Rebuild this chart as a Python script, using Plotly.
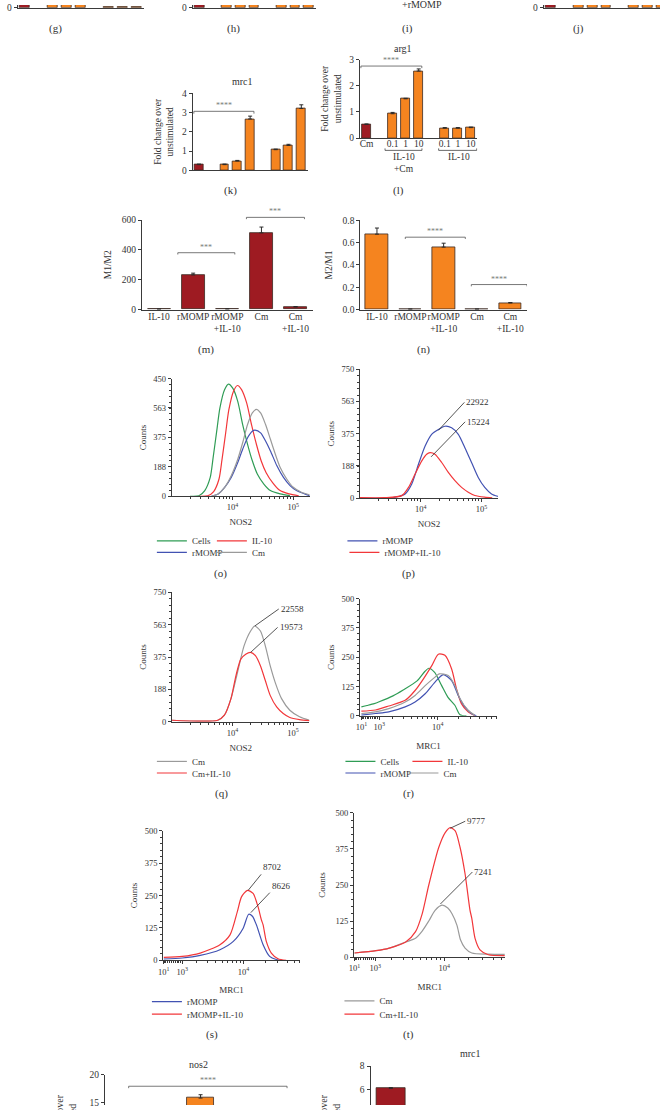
import numpy as np
import plotly.graph_objects as go

W, H = 660, 1110
FONT = "Liberation Serif"
INK = "#333333"
RED = "#9e1b22"
ORANGE = "#f5841f"
EDGE = "#3b2a22"
SIG = "#7a7a7a"
C_GREEN = "#2f9c55"
C_RED = "#f2373a"
C_BLUE = "#4252b2"
C_GRAY = "#9a9a9a"

# ---------------- data ----------------
# (g), (h), (j): only the feet of the bars are inside the page
top_slots = [0, 2, 3, 4, 6, 7, 8]
g_vals = [5, 5, 5, 5, 0.35, 0.35, 0.35]
h_vals = [5, 5, 5, 5, 5, 5, 5]
j_vals = [5, 5, 5, 5, 5, 5, 5]

# (k) mrc1 fold change
k_slots = [0, 2, 3, 4, 6, 7, 8]
k_vals = [0.29, 0.29, 0.48, 2.67, 1.07, 1.29, 3.22]
k_err = [0.03, 0.03, 0.03, 0.15, 0.03, 0.06, 0.19]

# (l) arg1 fold change
l_slots = [0, 2, 3, 4, 6, 7, 8]
l_vals = [0.52, 0.93, 1.50, 2.56, 0.38, 0.38, 0.40]
l_err = [0.02, 0.05, 0.02, 0.08, 0.02, 0.02, 0.02]
l_ticks = ["Cm", "0.1", "1", "10", "0.1", "1", "10"]

# (m) M1/M2 and (n) M2/M1
mn_cats = ["IL-10", "rMOMP", "rMOMP<br>+IL-10", "Cm", "Cm<br>+IL-10"]
m_vals = [2, 232, 3, 514, 17]
m_err = [1, 12, 1, 39, 3]
n_vals = [0.676, 0.003, 0.56, 0.003, 0.059]
n_err = [0.055, 0.001, 0.035, 0.001, 0.004]

# significance brackets: (x0, x1, y, label)
k_sig = [(-0.4, 4.3, 3.07, "****")]
l_sig = [(-0.43, 4.24, 2.75, "****")]
m_sig = [(0.55, 2.22, 381, "***"), (2.56, 4.26, 618, "***")]
n_sig = [(0.85, 2.65, 0.649, "****"), (2.83, 4.5, 0.224, "****")]
nos2_sig = [(0.12, 4.26, 17.9, "****")]

# bottom (cut) panels
nos2_slots = [2]
nos2_vals = [15.77]
nos2_err = [0.6]
mrc1b_slots = [0]
mrc1b_vals = [6.1]
mrc1b_err = [0.05]

# (o) NOS2 histograms
o_cells_x = [2000, 2800, 3500, 4300, 4800, 5500, 6200, 7400, 8600, 10100, 12200, 14700, 17700, 21200, 25600, 32800, 42000, 61000, 88000]
o_cells_y = [0, 3, 36, 120, 246, 415, 562, 679, 715, 689, 605, 457, 331, 226, 142, 78, 36, 15, 4]
o_il10_x = [2800, 3900, 4900, 6000, 6700, 7700, 8700, 10400, 12100, 14100, 17100, 20600, 24800, 29700, 35800, 46000, 59000, 85000, 123000]
o_il10_y = [0, 3, 30, 110, 230, 400, 550, 670, 706, 680, 595, 455, 330, 225, 150, 85, 40, 15, 3]
o_rmomp_x = [4500, 5800, 7430, 9530, 12200, 14700, 17700, 21200, 23500, 29000, 35000, 42100, 53800, 69000, 88500, 113000, 154000, 186000]
o_rmomp_y = [0, 15, 57, 120, 215, 300, 373, 415, 421, 404, 352, 289, 194, 120, 68, 36, 15, 4]
o_cm_x = [4500, 5800, 7430, 9530, 12200, 14700, 17700, 21200, 24700, 29000, 35000, 42100, 50700, 61000, 78000, 100000, 136000, 186000]
o_cm_y = [0, 15, 57, 131, 236, 341, 457, 531, 554, 531, 457, 363, 268, 183, 110, 57, 25, 9]

# (p)
p_rmomp_x = [1000, 3000, 3800, 5530, 7110, 9170, 11800, 15100, 19500, 25000, 32200, 41500, 53200, 68500, 88300, 113000, 146000, 188000]
p_rmomp_y = [0, 0, 6, 25, 83, 198, 304, 372, 400, 419, 410, 372, 294, 208, 121, 63, 25, 10]
p_il10_x = [1000, 2500, 4890, 6290, 8070, 10400, 12500, 14200, 17100, 22100, 28400, 36500, 47000, 60500, 77600, 113000, 150000]
p_il10_y = [3, 3, 15, 63, 141, 217, 256, 265, 256, 208, 150, 102, 63, 35, 16, 6, 2]

# (q)
q_cm_x = [1000, 5710, 7330, 9420, 12100, 15500, 19900, 23300, 28900, 34800, 41900, 50500, 64600, 88500, 128000, 187000]
q_cm_y = [9, 9, 38, 134, 287, 440, 526, 555, 526, 440, 325, 230, 134, 67, 29, 9]
q_il10_x = [1000, 5710, 7330, 9420, 11400, 13700, 16500, 19900, 23900, 28900, 34800, 41900, 53600, 68900, 88500, 128000, 187000]
q_il10_y = [9, 9, 38, 134, 268, 363, 392, 402, 383, 325, 239, 153, 86, 48, 25, 13, 7]

# (r) MRC1 histograms
r_cells_x = [0, 300, 700, 1000, 2000, 3000, 5000, 6500, 7400, 9000, 11400, 14000, 17700, 21000, 26000]
r_cells_y = [38, 44, 52, 60, 85, 110, 150, 190, 203, 185, 129, 80, 45, 5, 0]
r_il10_x = [0, 775, 1660, 3230, 4610, 6160, 8180, 10200, 12700, 15900, 18700, 22000, 27500, 34200]
r_il10_y = [20, 25, 42, 66, 108, 158, 214, 263, 258, 200, 115, 52, 17, 1]
r_rmomp_x = [0, 775, 1660, 3230, 4610, 6530, 9120, 12000, 15900, 19800, 24700, 30700, 36200]
r_rmomp_y = [3, 10, 17, 38, 59, 94, 144, 176, 150, 87, 38, 10, 0]
r_cm_x = [0, 775, 1660, 3230, 4610, 6530, 9120, 10500, 14200, 17700, 21000, 27500, 34200]
r_cm_y = [10, 17, 31, 59, 87, 129, 165, 179, 172, 129, 73, 24, 3]

# (s)
s_rmomp_x = [10, 1000, 2300, 4640, 7200, 9900, 11800, 13300, 15100, 18700, 23000, 28400, 34000]
s_rmomp_y = [5, 9, 19, 41, 73, 124, 178, 170, 137, 60, 15, 3, 0]
s_il10_x = [10, 1000, 2300, 4640, 6470, 8200, 9380, 11350, 13600, 15900, 17700, 18700, 20700, 24300, 30000, 38900]
s_il10_y = [11, 15, 28, 60, 98, 188, 245, 270, 258, 207, 156, 137, 73, 28, 6, 0]

# (t)
t_cm_x = [11, 1040, 1845, 3220, 4350, 5300, 6430, 7710, 9400, 11100, 12500, 14400, 15900, 18100, 21900, 34900, 55400]
t_cm_y = [14, 22, 31, 52, 65, 90, 125, 162, 180, 170, 150, 110, 60, 31, 14, 10, 9]
t_il10_x = [11, 1040, 1845, 3220, 4350, 5300, 6430, 8560, 10300, 11900, 13700, 15700, 18100, 20800, 21900, 24000, 27600, 34900, 55400]
t_il10_y = [14, 22, 31, 52, 88, 150, 250, 380, 432, 449, 438, 381, 289, 163, 134, 65, 25, 8, 5]

# peak call-outs: (panel axis, x value, y value, label, dx px, dy px)
nos2_marks = [("9", 19500, 395, "22922", 26, -28), ("9", 14800, 241, "15224", 34, -35),
              ("10", 23300, 555, "22558", 24, -17), ("10", 19900, 402, "19573", 27, -25)]
mrc1_marks = [("12", 11600, 270, "8702", 13, -16), ("12", 12640, 184, "8626", 19, -20),
              ("13", 11900, 447, "9777", 15, -7), ("13", 8980, 184, "7241", 32, -32)]

log_major = [1e4, 1e5]
log_major_text = ["10<sup>4</sup>", "10<sup>5</sup>"]
mrc1_major = [10, 1000, 10000]
mrc1_major_text = ["10<sup>1</sup>", "10<sup>3</sup>", "10<sup>4</sup>"]


def mrc1_axis(v):
    # biexponential (logicle-like) display scale used on the MRC1 axes
    return np.arcsinh(np.asarray(v, dtype=float) / 1600.0) / np.log(10)


minor_vals = [m * 10 ** e for e in range(1, 5) for m in range(2, 10)]

# ---------------- figure ----------------
fig = go.Figure()
axes = {}
annotations = []
shapes = []


def setax(n, xd, yd, xkw=None, ykw=None):
    s = "" if n == 1 else str(n)
    base = dict(showline=True, linecolor="#3a3a3a", linewidth=1, showgrid=False, zeroline=False,
                ticks="outside", ticklen=3, tickwidth=0.8, tickcolor="#3a3a3a",
                tickfont=dict(size=9.5, color=INK), fixedrange=True)
    xa = dict(base, domain=[xd[0] / W, xd[1] / W], anchor="y" + s)
    ya = dict(base, domain=[1 - yd[1] / H, 1 - yd[0] / H], anchor="x" + s)
    xa.update(xkw or {})
    ya.update(ykw or {})
    axes["xaxis" + s] = xa
    axes["yaxis" + s] = ya


def refs(n):
    s = "" if n == 1 else str(n)
    return "x" + s, "y" + s


def bars(n, xs, ys, colors, err=None, width=0.7, yref=None):
    xr, yr = refs(n)
    kw = dict(x=xs, y=ys, width=width, xaxis=xr, yaxis=yref or yr, showlegend=False, hoverinfo="skip",
              marker=dict(color=colors, line=dict(color=EDGE, width=0.8)))
    if err is not None:
        kw["error_y"] = dict(type="data", array=err, arrayminus=[0] * len(err), symmetric=False,
                             color="#2a2a2a", thickness=1, width=2)
    fig.add_trace(go.Bar(**kw))


def brackets(n, sig, drop, yref=None):
    xr, yr = refs(n)
    for x0, x1, y, lab in sig:
        fig.add_trace(go.Scatter(x=[x0, x0, x1, x1], y=[y - drop, y, y, y - drop], mode="lines",
                                 line=dict(color="#555555", width=0.8), xaxis=xr, yaxis=yref or yr,
                                 showlegend=False, hoverinfo="skip"))
        annotations.append(dict(x=(x0 + x1) / 2, y=y, xref=xr, yref=yref or yr, text=lab, showarrow=False,
                                yanchor="bottom", yshift=-1, font=dict(size=8, color=SIG)))


def curve(n, xs, ys, color, name, legend, logicle=False):
    xr, yr = refs(n)
    xv = mrc1_axis(xs) if logicle else xs
    fig.add_trace(go.Scatter(x=xv, y=ys, mode="lines", name=name, legend=legend,
                             line=dict(color=color, width=1.2, shape="spline", smoothing=0.7),
                             xaxis=xr, yaxis=yr, hoverinfo="skip"))


# ---- top strip ----
top_colors = [RED] + [ORANGE] * 6
for n, xd, xr_, vals in [(1, (12.7, 140), [-0.5, 8.5], g_vals), (2, (189, 313), [-0.5, 8.5], h_vals),
                         (3, (542.7, 660), [-0.5, 7.88], j_vals)]:
    setax(n, xd, (0, 2.7), dict(range=xr_, ticks="", showticklabels=False),
          dict(range=[0, 1], tickvals=[0], ticktext=["0"]))
    bars(n, top_slots, vals, top_colors, width=0.71)

# ---- (k) ----
yt = dict(font=dict(size=9.5, color=INK))
setax(4, (189, 305), (89.3, 166.7), dict(range=[-0.5, 8.5], ticks="", showticklabels=False),
      dict(range=[0, 4], dtick=1, title=dict(text="Fold change over<br>unstimulated", standoff=6, **yt)))
bars(4, k_slots, k_vals, [RED] + [ORANGE] * 6, k_err)
brackets(4, k_sig, 0.12)

# ---- (l) ----
setax(5, (357.7, 476), (55, 134.3),
      dict(range=[-0.5, 8.5], ticks="", tickvals=l_slots, ticktext=l_ticks, tickangle=0,
           ticklabelstandoff=-3, tickfont=dict(size=9.5, color=INK)),
      dict(range=[0, 3], dtick=1, title=dict(text="Fold change over<br>unstimulated", standoff=6, **yt)))
bars(5, l_slots, l_vals, [RED] + [ORANGE] * 6, l_err, width=0.68)
brackets(5, l_sig, 0.08)

# ---- (m) ----
setax(6, (138, 310), (217, 307.3),
      dict(range=[-0.5, 4.5], ticks="", tickvals=list(range(5)), ticktext=mn_cats, tickangle=0,
           ticklabelstandoff=-2),
      dict(range=[0, 600], tickvals=[0, 200, 400, 600], title=dict(text="M1/M2", standoff=8, **yt)))
axes["yaxis16"] = dict(domain=[1 - 307.3 / H, 1 - 205 / H], range=[0, 600 * (307.3 - 205) / 90.3],
                       anchor="x6", visible=False, fixedrange=True)
bars(6, list(range(5)), m_vals, [RED] * 5, m_err, width=0.67)
brackets(6, m_sig, 12, yref="y16")

# ---- (n) ----
setax(7, (358, 526), (217.3, 307.3),
      dict(range=[-0.5, 4.5], ticks="", tickvals=list(range(5)), ticktext=mn_cats, tickangle=0,
           ticklabelstandoff=-2),
      dict(range=[0, 0.8], tickvals=[0, 0.2, 0.4, 0.6, 0.8], ticktext=["0.0", "0.2", "0.4", "0.6", "0.8"],
           title=dict(text="M2/M1", standoff=8, **yt)))
bars(7, list(range(5)), n_vals, [ORANGE] * 5, n_err, width=0.68)
brackets(7, n_sig, 0.016)

# ---- flow histograms ----
tf8 = dict(size=8.5, color=INK)


def logx(title):
    return dict(type="log", range=[3, 5.27], tickvals=log_major, ticktext=log_major_text, tickfont=tf8,
                minor=dict(tickvals=minor_vals, ticks="outside", ticklen=2, tickcolor="#3a3a3a"),
                title=dict(text=title, standoff=7, font=dict(size=9, color=INK)))


def mrcx(rng):
    return dict(range=rng, tickvals=list(mrc1_axis(mrc1_major)), ticktext=mrc1_major_text, tickfont=tf8,
                minor=dict(tickvals=list(mrc1_axis(minor_vals)), ticks="outside", ticklen=2, tickcolor="#3a3a3a"),
                title=dict(text="MRC1", standoff=11, font=dict(size=9, color=INK)))


def county(top, labels=None, sub=37.5, standoff=5):
    vals = [0, 188, 375, 563, 750] if top == 750 else [0, 125, 250, 375, 500]
    return dict(range=[0, top], tickvals=vals, ticktext=labels or [str(v) for v in vals], tickfont=tf8,
                minor=dict(dtick=sub, tick0=0, ticks="outside", ticklen=2, tickcolor="#3a3a3a"),
                title=dict(text="Counts", standoff=standoff, font=dict(size=9, color=INK)))


setax(8, (168, 307), (377, 495.7), logx("NOS2"), county(750, ["0", "188", "375", "563", "450"]))
curve(8, o_cells_x, o_cells_y, C_GREEN, "Cells", "legend")
curve(8, o_il10_x, o_il10_y, C_RED, "IL-10", "legend")
curve(8, o_rmomp_x, o_rmomp_y, C_BLUE, "rMOMP", "legend2")
curve(8, o_cm_x, o_cm_y, C_GRAY, "Cm", "legend2")

setax(9, (357.7, 496.7), (367.7, 497.7), logx("NOS2"), county(750))
curve(9, p_rmomp_x, p_rmomp_y, C_BLUE, "rMOMP", "legend3")
curve(9, p_il10_x, p_il10_y, C_RED, "rMOMP+IL-10", "legend4")

setax(10, (168.3, 306.7), (592.7, 723.3), logx("NOS2"), county(750))
curve(10, q_cm_x, q_cm_y, C_GRAY, "Cm", "legend5")
curve(10, q_il10_x, q_il10_y, C_RED, "Cm+IL-10", "legend6")

setax(11, (357.7, 496), (599, 717.3), mrcx([-0.02, 1.956]), county(500, sub=25))
curve(11, r_cells_x, r_cells_y, C_GREEN, "Cells", "legend7", True)
curve(11, r_il10_x, r_il10_y, C_RED, "IL-10", "legend7", True)
curve(11, r_rmomp_x, r_rmomp_y, C_BLUE, "rMOMP", "legend8", True)
curve(11, r_cm_x, r_cm_y, C_GRAY, "Cm", "legend8", True)

setax(12, (159.3, 297.3), (833.3, 964), mrcx([-0.007, 1.878]), county(500, sub=25))
curve(12, s_rmomp_x, s_rmomp_y, C_BLUE, "rMOMP", "legend9", True)
curve(12, s_il10_x, s_il10_y, C_RED, "rMOMP+IL-10", "legend10", True)

setax(13, (351.7, 504.3), (815.3, 960.7), mrcx([-0.003, 1.85]), county(500, sub=25, standoff=8))
curve(13, t_cm_x, t_cm_y, C_GRAY, "Cm", "legend11", True)
curve(13, t_il10_x, t_il10_y, C_RED, "Cm+IL-10", "legend12", True)

for ax, xv, yv, lab, dx, dy in nos2_marks:
    annotations.append(dict(x=float(np.log10(xv)), y=yv, xref="x" + ax, yref="y" + ax, text=lab, showarrow=True,
                            arrowhead=0, arrowwidth=0.8, arrowcolor="#2a2a2a", ax=dx, ay=dy, xanchor="left",
                            yanchor="middle", font=dict(size=9, color=INK)))
for ax, xv, yv, lab, dx, dy in mrc1_marks:
    annotations.append(dict(x=float(mrc1_axis(xv)), y=yv, xref="x" + ax, yref="y" + ax, text=lab, showarrow=True,
                            arrowhead=0, arrowwidth=0.8, arrowcolor="#2a2a2a", ax=dx, ay=dy, xanchor="left",
                            yanchor="bottom" if ax == "12" else "middle", font=dict(size=9, color=INK)))

# ---- bottom cut panels ----
setax(14, (100.7, 332), (1079.3, 1110), dict(range=[-0.5, 5.5], visible=False),
      dict(range=[14.52, 20], tickvals=[15, 20]))
bars(14, nos2_slots, nos2_vals, [ORANGE], nos2_err)
brackets(14, nos2_sig, 0.35)

setax(15, (368.3, 594), (1070.7, 1110), dict(range=[-0.5, 5], visible=False),
      dict(range=[4.67, 8], tickvals=[6, 8]))
bars(15, mrc1b_slots, mrc1b_vals, [RED], mrc1b_err)

# ---- legends ----
legends = {}


def addleg(name, x_text, y_center, entrywidth=None):
    d = dict(x=(x_text - 40) / W, y=1 - y_center / H, xanchor="left", yanchor="middle", orientation="h",
             bgcolor="rgba(0,0,0,0)", font=dict(size=9, color=INK), tracegroupgap=0)
    if entrywidth is not None:
        d.update(entrywidth=entrywidth, entrywidthmode="pixels")
    legends[name] = d


addleg("legend", 188, 540.7, 15)
addleg("legend2", 188, 552.3, 15)
addleg("legend3", 380, 540.7)
addleg("legend4", 382, 552.3)
addleg("legend5", 188, 763.3)
addleg("legend6", 188, 775)
addleg("legend7", 378, 763.3, 22)
addleg("legend8", 378, 775, 18)
addleg("legend9", 183, 1005.7)
addleg("legend10", 183, 1018.3)
addleg("legend11", 377, 1005)
addleg("legend12", 377, 1018.3)


# ---- text annotations ----
def paper_text(text, x, y, size=10, **kw):
    d = dict(text=text, x=x / W, y=1 - y / H, xref="paper", yref="paper", showarrow=False,
             xanchor="center", yanchor="middle", font=dict(size=size, color=INK))
    d.update(kw)
    annotations.append(d)


for lab, x, y in [("(g)", 51, 24), ("(h)", 230.5, 24), ("(i)", 406, 24), ("(j)", 577.4, 24),
                  ("(k)", 227, 187), ("(l)", 396, 187), ("(m)", 203, 348), ("(n)", 422, 348),
                  ("(o)", 217, 574), ("(p)", 407, 574), ("(q)", 217.7, 796), ("(r)", 406.7, 796),
                  ("(s)", 208.3, 1039), ("(t)", 406.7, 1039)]:
    paper_text(lab, x, y, 11)

for lab, x, y in [("mrc1", 239, 77), ("arg1", 401, 44), ("nos2", 195, 1069), ("mrc1", 469, 1058)]:
    paper_text(lab, x, y, 10)

paper_text("+rMOMP", 420, -1, 10)
paper_text("IL-10", 402, 153.3, 9.5)
paper_text("+Cm", 402, 165.5, 9.5)
paper_text("IL-10", 457, 153.3, 9.5)
paper_text("Fold change over<br>unstimulated", 61, 1135, 10, textangle=-90)
paper_text("Fold change over<br>unstimulated", 327, 1135, 10, textangle=-90)

# group underlines below (l)
for x0, x1 in [(1.42, 4.25), (5.53, 8.45)]:
    y0 = 1 - 146.7 / H
    y1 = 1 - 144.7 / H
    shapes.append(dict(type="path", xref="x5", yref="paper",
                       path=f"M {x0},{y1} L {x0},{y0} L {x1},{y0} L {x1},{y1}",
                       line=dict(color="#444444", width=0.8)))

layout = dict(width=W, height=H, margin=dict(l=0, r=0, t=0, b=0), paper_bgcolor="white",
              plot_bgcolor="rgba(0,0,0,0)", font=dict(family=FONT, size=9, color=INK),
              showlegend=True, hovermode=False, bargap=0, annotations=annotations, shapes=shapes)
layout.update(axes)
layout.update(legends)
fig.update_layout(**layout)
fig.write_html("out.html", config={"displayModeBar": False},
               post_script="document.body.style.margin='0';document.body.style.overflow='hidden';"
                           "document.documentElement.style.overflow='hidden';")
